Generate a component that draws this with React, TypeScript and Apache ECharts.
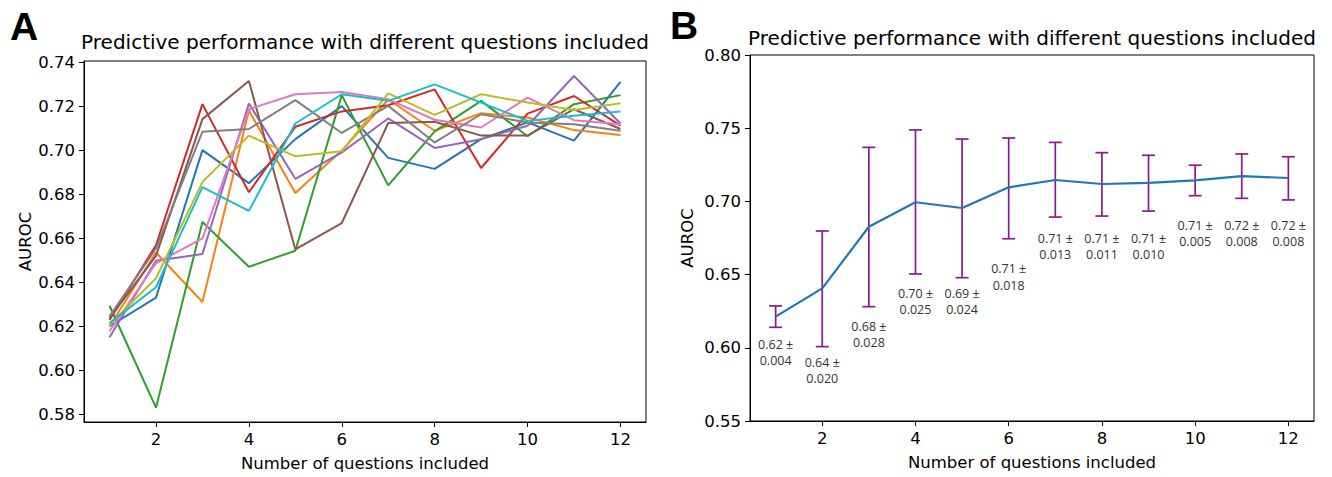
import React, { useEffect, useRef } from "react";
import * as echarts from "echarts";

// ---------- Data ----------
const questionCounts = [1, 2, 3, 4, 5, 6, 7, 8, 9, 10, 11, 12];

// Panel A: AUROC of each run with different questions included
const runBlue = [0.620, 0.633, 0.700, 0.685, 0.705, 0.720, 0.6965, 0.6915, 0.705, 0.7126, 0.7043, 0.731];
const runOrange = [0.620, 0.6535, 0.631, 0.718, 0.6805, 0.6998, 0.723, 0.7088, 0.7168, 0.7148, 0.7091, 0.7069];
const runGreen = [0.6293, 0.583, 0.6674, 0.647, 0.6543, 0.725, 0.684, 0.7085, 0.7224, 0.7063, 0.7209, 0.725];
const runRed = [0.6229, 0.6568, 0.7209, 0.6809, 0.7106, 0.7176, 0.7204, 0.7276, 0.6919, 0.7166, 0.7246, 0.7111];
const runPurple = [0.615, 0.6498, 0.6528, 0.7212, 0.687, 0.699, 0.7144, 0.701, 0.705, 0.7111, 0.7337, 0.7121];
const runBrown = [0.6237, 0.652, 0.7141, 0.7314, 0.6549, 0.6669, 0.7123, 0.7129, 0.7066, 0.7066, 0.7186, 0.7096];
const runPink = [0.6177, 0.6486, 0.6599, 0.7186, 0.7254, 0.7264, 0.7231, 0.7138, 0.7103, 0.7239, 0.7136, 0.7118];
const runGray = [0.6245, 0.6553, 0.7084, 0.7096, 0.7227, 0.7078, 0.7201, 0.7035, 0.7163, 0.7126, 0.7118, 0.7088];
const runOlive = [0.6207, 0.6418, 0.6855, 0.7066, 0.6972, 0.6995, 0.7258, 0.716, 0.7254, 0.7216, 0.7182, 0.7213];
const runCyan = [0.6214, 0.6377, 0.6832, 0.6724, 0.7121, 0.7254, 0.7224, 0.7299, 0.7216, 0.7133, 0.7156, 0.7176];

const runs = [runBlue, runOrange, runGreen, runRed, runPurple, runBrown, runPink, runGray, runOlive, runCyan];
const runColors = ["#1f77b4", "#ff7f0e", "#2ca02c", "#d62728", "#9467bd", "#8c564b", "#e377c2", "#7f7f7f", "#bcbd22", "#17becf"];

// Panel B: mean AUROC and error bars
const meanAuroc = [0.6213, 0.6406, 0.6827, 0.6994, 0.6955, 0.7096, 0.7146, 0.7119, 0.7126, 0.7144, 0.7173, 0.716];
const errLow = [0.614, 0.6008, 0.6281, 0.6504, 0.6479, 0.6745, 0.6893, 0.690, 0.6934, 0.7039, 0.7021, 0.701];
const errHigh = [0.6286, 0.6798, 0.7369, 0.7488, 0.7426, 0.7433, 0.7403, 0.7333, 0.7315, 0.7247, 0.7324, 0.7305];
const meanLabels = ["0.62", "0.64", "0.68", "0.70", "0.69", "0.71", "0.71", "0.71", "0.71", "0.71", "0.72", "0.72"];
const sdLabels = ["0.004", "0.020", "0.028", "0.025", "0.024", "0.018", "0.013", "0.011", "0.010", "0.005", "0.008", "0.008"];
const annotationY = [0.6026, 0.5903, 0.6149, 0.6372, 0.6372, 0.654, 0.675, 0.675, 0.675, 0.6837, 0.6837, 0.6837];

// Tick labels
const xTicks = [2, 4, 6, 8, 10, 12];
const yTicksA = [0.58, 0.60, 0.62, 0.64, 0.66, 0.68, 0.70, 0.72, 0.74];

const titleText = "Predictive performance with different questions included";
const xName = "Number of questions included";
const yName = "AUROC";

const FONT = "DejaVu Sans";
const TICK_SIZE = 16.5;

function makeXAxis(gridIndex: number) {
  return {
    type: "value",
    gridIndex,
    min: 0.45,
    max: 12.55,
    name: xName,
    nameLocation: "middle",
    nameGap: 33,
    nameTextStyle: { color: "#000", fontSize: TICK_SIZE, fontFamily: FONT },
    axisLine: { show: true, onZero: false, lineStyle: { color: "#000", width: 1 } },
    axisTick: { show: true, length: 5, customValues: xTicks, lineStyle: { color: "#000", width: 1 } },
    axisLabel: { customValues: xTicks, color: "#000", fontSize: TICK_SIZE, fontFamily: FONT, margin: 9 },
    splitLine: { show: false },
  };
}

export default function App() {
  const ref = useRef<HTMLDivElement>(null);
  useEffect(() => {
    if (!ref.current) return;
    const chart = echarts.init(ref.current, undefined, { renderer: "svg" });

    const lineSeries = runs.map((run, i) => ({
      type: "line",
      xAxisIndex: 0,
      yAxisIndex: 0,
      data: questionCounts.map((q, j) => [q, run[j]]),
      showSymbol: false,
      symbol: "none",
      lineStyle: { color: runColors[i], width: 2 },
      itemStyle: { color: runColors[i] },
      silent: true,
    }));

    const option: any = {
      animation: false,
      backgroundColor: "#fff",
      grid: [
        { left: 84, top: 61, width: 562, height: 364, show: true, borderColor: "#000", borderWidth: 1, backgroundColor: "transparent" },
        { left: 750, top: 55, width: 564, height: 366, show: true, borderColor: "#000", borderWidth: 1, backgroundColor: "transparent" },
      ],
      xAxis: [makeXAxis(0), makeXAxis(1)],
      yAxis: [
        {
          type: "value",
          gridIndex: 0,
          min: 0.5765,
          max: 0.7405,
          name: yName,
          nameLocation: "middle",
          nameGap: 48,
          nameTextStyle: { color: "#000", fontSize: TICK_SIZE, fontFamily: FONT },
          axisLine: { show: true, lineStyle: { color: "#000", width: 1 } },
          axisTick: { show: true, length: 5, customValues: yTicksA, lineStyle: { color: "#000" } },
          axisLabel: { customValues: yTicksA, color: "#000", fontSize: TICK_SIZE, fontFamily: FONT, margin: 9, formatter: (v: number) => v.toFixed(2) },
          splitLine: { show: false },
        },
        {
          type: "value",
          gridIndex: 1,
          min: 0.55,
          max: 0.8,
          interval: 0.05,
          name: yName,
          nameLocation: "middle",
          nameGap: 54,
          nameTextStyle: { color: "#000", fontSize: TICK_SIZE, fontFamily: FONT },
          axisLine: { show: true, lineStyle: { color: "#000", width: 1 } },
          axisTick: { show: true, length: 5, lineStyle: { color: "#000" } },
          axisLabel: { color: "#000", fontSize: TICK_SIZE, fontFamily: FONT, margin: 9, formatter: (v: number) => v.toFixed(2) },
          splitLine: { show: false },
        },
      ],
      graphic: [
        { type: "text", x: 365, y: 42, style: { text: titleText, fill: "#000", font: `20px '${FONT}'`, textAlign: "center", textVerticalAlign: "middle" } },
        { type: "text", x: 1032, y: 38, style: { text: titleText, fill: "#000", font: `20px '${FONT}'`, textAlign: "center", textVerticalAlign: "middle" } },
        { type: "text", x: 10, y: 26, style: { text: "A", fill: "#000", font: "bold 39px 'Liberation Sans'", textAlign: "left", textVerticalAlign: "middle" } },
        { type: "text", x: 670, y: 25, style: { text: "B", fill: "#000", font: "bold 39px 'Liberation Sans'", textAlign: "left", textVerticalAlign: "middle" } },
      ],
      series: [
        ...lineSeries,
        {
          type: "line",
          xAxisIndex: 1,
          yAxisIndex: 1,
          data: questionCounts.map((q, j) => [q, meanAuroc[j]]),
          showSymbol: false,
          symbol: "none",
          lineStyle: { color: "#1f77b4", width: 2.2 },
          z: 3,
          silent: true,
        },
        {
          type: "custom",
          xAxisIndex: 1,
          yAxisIndex: 1,
          data: questionCounts.map((q, j) => [q, errLow[j], errHigh[j]]),
          encode: { x: 0, y: [1, 2] },
          z: 2,
          silent: true,
          renderItem: (params: any, api: any) => {
            const x = api.value(0);
            const top = api.coord([x, api.value(2)]);
            const bot = api.coord([x, api.value(1)]);
            const cap = 6.5;
            const stroke = { stroke: "#8b1a8b", lineWidth: 1.7 };
            return {
              type: "group",
              children: [
                { type: "line", shape: { x1: top[0], y1: top[1], x2: bot[0], y2: bot[1] }, style: stroke },
                { type: "line", shape: { x1: top[0] - cap, y1: top[1], x2: top[0] + cap, y2: top[1] }, style: stroke },
                { type: "line", shape: { x1: bot[0] - cap, y1: bot[1], x2: bot[0] + cap, y2: bot[1] }, style: stroke },
              ],
            };
          },
        },
        {
          type: "custom",
          xAxisIndex: 1,
          yAxisIndex: 1,
          data: questionCounts.map((q, j) => [q, annotationY[j], j]),
          encode: { x: 0, y: 1 },
          z: 4,
          silent: true,
          renderItem: (params: any, api: any) => {
            const idx = api.value(2);
            const p = api.coord([api.value(0), api.value(1)]);
            return {
              type: "text",
              x: p[0],
              y: p[1] - 8,
              style: {
                text: `${meanLabels[idx]} ±\n${sdLabels[idx]}`,
                fill: "#333",
                font: "12.5px 'Open Sans'",
                lineHeight: 16.3,
                textAlign: "center",
                textVerticalAlign: "top",
              },
            };
          },
        },
      ],
    };
    chart.setOption(option);
    return () => chart.dispose();
  }, []);

  return (
    <div
      ref={ref}
      style={{ position: "fixed", left: 0, top: 0, width: 1332, height: 477, background: "#fff" }}
    />
  );
}
